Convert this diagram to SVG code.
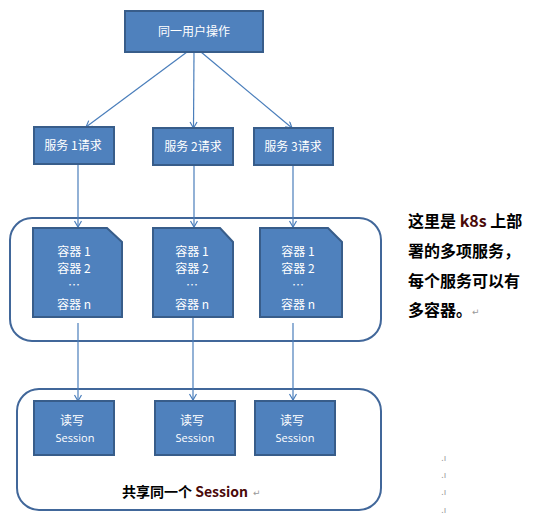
<svg xmlns="http://www.w3.org/2000/svg" width="536" height="517" viewBox="0 0 536 517">
<style>
.box{fill:#4F81BD;stroke:#385D8A;stroke-width:2}
.outer{fill:none;stroke:#41679A;stroke-width:2}
.conn{stroke:#4A7EBB;stroke-width:1.2;fill:none}
.t{font-family:"Noto Sans CJK SC","Open Sans",sans-serif;fill:#fff;font-size:12px;text-anchor:middle}
.ts{font-family:"Open Sans","Noto Sans CJK SC",sans-serif;fill:#fff;font-size:11px;text-anchor:middle}
.b{font-family:"Noto Sans CJK SC",sans-serif;font-weight:bold;fill:#000}
.red{fill:#4A0A0A}
.pm{font-family:"DejaVu Sans",sans-serif;fill:#999;font-size:9px}
</style>
<defs>
<marker id="arr" markerUnits="userSpaceOnUse" markerWidth="12" markerHeight="12" refX="7" refY="4" orient="auto">
<path d="M1,0.5 L7,4 L1,7.5" fill="none" stroke="#4A7EBB" stroke-width="1.2"/>
</marker>
</defs>
<g id="group-containers"><rect class="outer" x="10" y="218" width="371" height="123" rx="22"/></g>
<g id="group-sessions"><rect class="outer" x="17" y="389" width="364" height="121" rx="22"/></g>
<g id="connectors">
<line class="conn" x1="187" y1="52" x2="86" y2="127" marker-end="url(#arr)"/>
<line class="conn" x1="194" y1="52" x2="193.5" y2="128" marker-end="url(#arr)"/>
<line class="conn" x1="201" y1="52" x2="292" y2="128" marker-end="url(#arr)"/>
<line class="conn" x1="78" y1="165" x2="78" y2="227" marker-end="url(#arr)"/>
<line class="conn" x1="194" y1="165" x2="194" y2="227" marker-end="url(#arr)"/>
<line class="conn" x1="293" y1="165" x2="293" y2="227" marker-end="url(#arr)"/>
<line class="conn" x1="78" y1="323" x2="78" y2="401" marker-end="url(#arr)"/>
<line class="conn" x1="193" y1="317" x2="193" y2="400" marker-end="url(#arr)"/>
<line class="conn" x1="293" y1="323" x2="293" y2="400" marker-end="url(#arr)"/>
</g>
<g id="user-op">
<rect class="box" x="125" y="11" width="138" height="41"/>
<text class="t" x="194" y="36">同一用户操作</text>
</g>
<g id="svc1"><rect class="box" x="34" y="127" width="80" height="37"/><text class="t" x="73" y="150">服务 1请求</text></g>
<g id="svc2"><rect class="box" x="153" y="128" width="80" height="37"/><text class="t" x="193" y="151">服务 2请求</text></g>
<g id="svc3"><rect class="box" x="254" y="128" width="79" height="37"/><text class="t" x="293" y="151">服务 3请求</text></g>
<g id="cont1">
<path class="box" d="M33,228 H107 L122,242 V317 H33 Z"/>
<text class="t" x="74" y="256">容器 1</text>
<text class="t" x="74" y="273">容器 2</text>
<text class="t" x="74" y="290" font-size="9">…</text>
<text class="t" x="74" y="309">容器 n</text>
</g>
<g id="cont2">
<path class="box" d="M153,228 H220 L233,242 V317 H153 Z"/>
<text class="t" x="192" y="256">容器 1</text>
<text class="t" x="192" y="273">容器 2</text>
<text class="t" x="192" y="290" font-size="9">…</text>
<text class="t" x="192" y="309">容器 n</text>
</g>
<g id="cont3">
<path class="box" d="M260,228 H328 L342,242 V317 H260 Z"/>
<text class="t" x="298" y="256">容器 1</text>
<text class="t" x="298" y="273">容器 2</text>
<text class="t" x="298" y="290" font-size="9">…</text>
<text class="t" x="298" y="309">容器 n</text>
</g>
<g id="sess1"><rect class="box" x="34" y="401" width="80" height="54"/><text class="t" x="72" y="425">读写</text><text class="ts" x="75" y="442">Session</text></g>
<g id="sess2"><rect class="box" x="155" y="401" width="80" height="54"/><text class="t" x="192" y="425">读写</text><text class="ts" x="195" y="442">Session</text></g>
<g id="sess3"><rect class="box" x="255" y="401" width="80" height="54"/><text class="t" x="292" y="425">读写</text><text class="ts" x="295" y="442">Session</text></g>
<g id="shared-label">
<text class="b" x="122" y="497" font-size="14">共享同一个 <tspan class="red">Session</tspan></text>
<text class="pm" x="253" y="496">↵</text>
</g>
<g id="note">
<text class="b" x="408" y="227" font-size="16">这里是 <tspan class="red">k8s</tspan> 上部</text>
<text class="b" x="408" y="257" font-size="16">署的多项服务，</text>
<text class="b" x="408" y="287" font-size="16">每个服务可以有</text>
<text class="b" x="408" y="316" font-size="16">多容器。</text>
<text class="pm" x="472" y="315">↵</text>
</g>
<g id="marks">
<text class="pm" x="441" y="461" font-size="7">.ı</text>
<text class="pm" x="441" y="478" font-size="7">.ı</text>
<text class="pm" x="441" y="495" font-size="7">.ı</text>
<text class="pm" x="441" y="513" font-size="7">.ı</text>
</g>
</svg>
